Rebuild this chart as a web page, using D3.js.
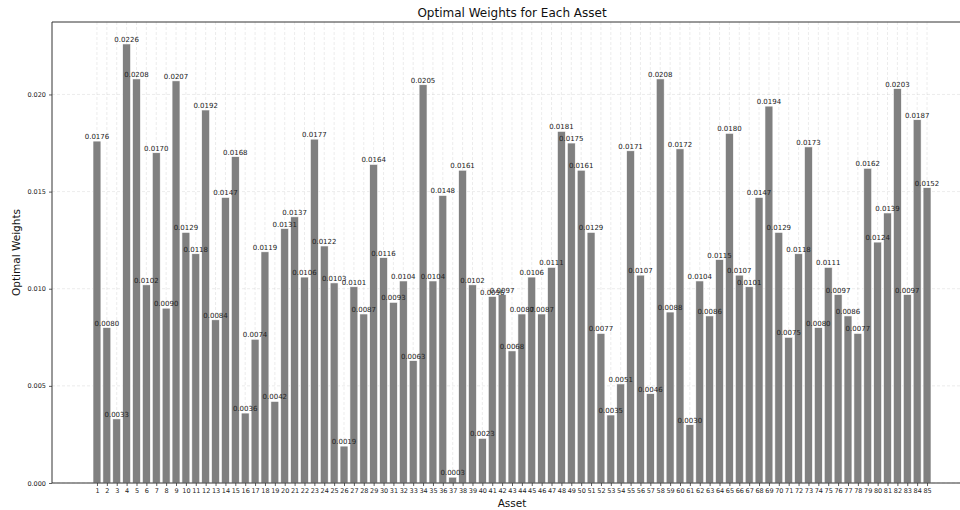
<!DOCTYPE html>
<html>
<head>
<meta charset="utf-8">
<script src="https://cdn.jsdelivr.net/npm/d3@7"></script>
<style>
  body { margin: 0; background: #fff; }
  svg { display: block; font-family: "DejaVu Sans", sans-serif; }
</style>
</head>
<body>
<svg width="960" height="510"></svg>
<script>
const assets = [
  1, 2, 3, 4, 5, 6, 7, 8, 9, 10, 11, 12, 13, 14, 15, 16, 17, 18, 19, 20,
  21, 22, 23, 24, 25, 26, 27, 28, 29, 30, 31, 32, 33, 34, 35, 36, 37, 38, 39, 40,
  41, 42, 43, 44, 45, 46, 47, 48, 49, 50, 51, 52, 53, 54, 55, 56, 57, 58, 59, 60,
  61, 62, 63, 64, 65, 66, 67, 68, 69, 70, 71, 72, 73, 74, 75, 76, 77, 78, 79, 80,
  81, 82, 83, 84, 85
];

const weights = [
  0.0176, 0.0080, 0.0033, 0.0226, 0.0208, 0.0102, 0.0170, 0.0090, 0.0207, 0.0129,
  0.0118, 0.0192, 0.0084, 0.0147, 0.0168, 0.0036, 0.0074, 0.0119, 0.0042, 0.0131,
  0.0137, 0.0106, 0.0177, 0.0122, 0.0103, 0.0019, 0.0101, 0.0087, 0.0164, 0.0116,
  0.0093, 0.0104, 0.0063, 0.0205, 0.0104, 0.0148, 0.0003, 0.0161, 0.0102, 0.0023,
  0.0096, 0.0097, 0.0068, 0.0087, 0.0106, 0.0087, 0.0111, 0.0181, 0.0175, 0.0161,
  0.0129, 0.0077, 0.0035, 0.0051, 0.0171, 0.0107, 0.0046, 0.0208, 0.0088, 0.0172,
  0.0030, 0.0104, 0.0086, 0.0115, 0.0180, 0.0107, 0.0101, 0.0147, 0.0194, 0.0129,
  0.0075, 0.0118, 0.0173, 0.0080, 0.0111, 0.0097, 0.0086, 0.0077, 0.0162, 0.0124,
  0.0139, 0.0203, 0.0097, 0.0187, 0.0152
];

const yTicks = [0, 0.005, 0.010, 0.015, 0.020];

const data = assets.map((a, i) => ({ asset: a, weight: weights[i] }));

// axes box runs past the right edge of the picture (as in the original)
const box = { left: 52, top: 22, right: 972, bottom: 483 };
const barWidth = 0.8;
const xMargin = 4.55;

const x = d3.scaleLinear()
  .domain([assets[0] - xMargin, assets[assets.length - 1] + xMargin])
  .range([box.left, box.right]);

const y = d3.scaleLinear()
  .domain([0, d3.max(weights) * 1.05])
  .range([box.bottom, box.top]);

const svg = d3.select("svg");

// grid
const grid = svg.append("g").attr("class", "grid")
  .attr("stroke", "#b0b0b0")
  .attr("stroke-opacity", 0.3)
  .attr("stroke-width", 0.8)
  .attr("stroke-dasharray", "3,2");

grid.selectAll("line.gx")
  .data(assets)
  .enter()
  .append("line")
  .attr("class", "gx")
  .attr("x1", d => x(d)).attr("x2", d => x(d))
  .attr("y1", box.top).attr("y2", box.bottom);

grid.selectAll("line.gy")
  .data(yTicks)
  .enter()
  .append("line")
  .attr("class", "gy")
  .attr("x1", box.left).attr("x2", box.right)
  .attr("y1", d => y(d)).attr("y2", d => y(d));

// bars
const bw = x(barWidth) - x(0);
svg.append("g")
  .attr("class", "bars")
  .selectAll("rect")
  .data(data)
  .enter()
  .append("rect")
  .attr("x", d => x(d.asset) - bw / 2)
  .attr("width", bw)
  .attr("y", d => y(d.weight))
  .attr("height", d => y(0) - y(d.weight))
  .attr("fill", "#808080")
  .attr("stroke", "#fff")
  .attr("stroke-width", 0.6);

// value labels
svg.append("g")
  .attr("class", "labels")
  .selectAll("text")
  .data(data)
  .enter()
  .append("text")
  .attr("x", d => x(d.asset))
  .attr("y", d => y(d.weight) - 2)
  .attr("text-anchor", "middle")
  .attr("font-size", 7)
  .attr("fill", "#222")
  .text(d => d.weight.toFixed(4));

// axes
const xAxis = svg.append("g")
  .attr("transform", `translate(0,${box.bottom})`)
  .call(d3.axisBottom(x).tickValues(assets).tickFormat(d3.format("d")).tickSize(3).tickPadding(2));

const yAxis = svg.append("g")
  .attr("transform", `translate(${box.left},0)`)
  .call(d3.axisLeft(y).tickValues(yTicks).tickFormat(d3.format(".3f")).tickSize(3).tickPadding(3));

[xAxis, yAxis].forEach(ax => {
  ax.select(".domain").remove();
  ax.selectAll("text").attr("font-size", 6.5).attr("fill", "#222").attr("font-family", "DejaVu Sans");
  ax.selectAll("line").attr("stroke", "#333").attr("stroke-width", 0.8);
});

// spines
svg.append("path")
  .attr("d", `M${box.right},${box.top}H${box.left}V${box.bottom}H${box.right}`)
  .attr("fill", "none")
  .attr("stroke", "#333")
  .attr("stroke-width", 1);

// titles
svg.append("text")
  .attr("x", (box.left + box.right) / 2)
  .attr("y", 17)
  .attr("text-anchor", "middle")
  .attr("font-size", 12)
  .attr("fill", "#111")
  .text("Optimal Weights for Each Asset");

svg.append("text")
  .attr("x", (box.left + box.right) / 2)
  .attr("y", 507)
  .attr("text-anchor", "middle")
  .attr("font-size", 10.5)
  .attr("fill", "#111")
  .text("Asset");

svg.append("text")
  .attr("transform", `translate(20,${(box.top + box.bottom) / 2}) rotate(-90)`)
  .attr("text-anchor", "middle")
  .attr("font-size", 10.5)
  .attr("fill", "#111")
  .text("Optimal Weights");
</script>
</body>
</html>
